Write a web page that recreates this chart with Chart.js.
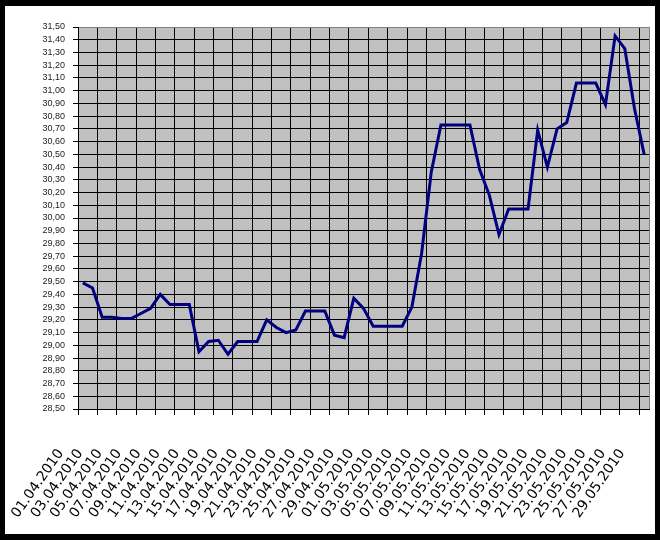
<!DOCTYPE html>
<html><head><meta charset="utf-8">
<script src="https://cdn.jsdelivr.net/npm/chart.js@4/dist/chart.umd.min.js"></script>
<style>html,body{margin:0;padding:0;background:#000;} canvas{display:block;}</style>
</head><body>
<canvas id="c" width="660" height="540"></canvas>
<script>
const dates = [
 '01.04.2010','02.04.2010','03.04.2010','04.04.2010','05.04.2010','06.04.2010','07.04.2010','08.04.2010','09.04.2010','10.04.2010',
 '11.04.2010','12.04.2010','13.04.2010','14.04.2010','15.04.2010','16.04.2010','17.04.2010','18.04.2010','19.04.2010','20.04.2010',
 '21.04.2010','22.04.2010','23.04.2010','24.04.2010','25.04.2010','26.04.2010','27.04.2010','28.04.2010','29.04.2010','30.04.2010',
 '01.05.2010','02.05.2010','03.05.2010','04.05.2010','05.05.2010','06.05.2010','07.05.2010','08.05.2010','09.05.2010','10.05.2010',
 '11.05.2010','12.05.2010','13.05.2010','14.05.2010','15.05.2010','16.05.2010','17.05.2010','18.05.2010','19.05.2010','20.05.2010',
 '21.05.2010','22.05.2010','23.05.2010','24.05.2010','25.05.2010','26.05.2010','27.05.2010','28.05.2010','29.05.2010'
];
const rates = [
 29.49,29.45,29.22,29.22,29.21,29.21,29.25,29.29,29.40,29.32,
 29.32,29.32,28.95,29.03,29.04,28.93,29.03,29.03,29.03,29.20,
 29.14,29.10,29.12,29.27,29.27,29.27,29.08,29.06,29.37,29.29,
 29.15,29.15,29.15,29.15,29.30,29.72,30.36,30.73,30.73,30.73,
 30.73,30.38,30.18,29.87,30.07,30.07,30.07,30.69,30.40,30.70,
 30.75,31.06,31.06,31.06,30.89,31.43,31.33,30.86,30.50
];
const shownDates = dates.filter((d, i) => i % 2 === 0);
const yMin = 28.5, yMax = 31.5, yStep = 0.1;

const framePlugin = {
  id: 'frame',
  beforeDraw(chart) {
    const ctx = chart.ctx, a = chart.chartArea;
    ctx.save();
    ctx.fillStyle = '#000';
    ctx.fillRect(0, 0, chart.width, chart.height);
    ctx.fillStyle = '#fff';
    ctx.fillRect(5, 6, 650, 528);
    ctx.fillStyle = '#c0c0c0';
    ctx.fillRect(a.left, a.top, a.right - a.left, a.bottom - a.top);
    ctx.restore();
  },
  afterDraw(chart) {
    const ctx = chart.ctx;
    ctx.save();
    ctx.fillStyle = '#000';
    ctx.fillRect(0, 0, 5, chart.height);
    ctx.fillRect(0, 534, chart.width, 6);
    ctx.restore();
  }
};

new Chart(document.getElementById('c'), {
  type: 'line',
  data: {
    labels: dates,
    datasets: [{
      data: rates,
      borderColor: '#000080',
      borderWidth: 3,
      pointRadius: 0,
      tension: 0,
      fill: false
    }]
  },
  options: {
    responsive: false,
    animation: false,
    devicePixelRatio: 1,
    layout: { padding: { top: 27, right: 11, left: 0, bottom: 0 } },
    plugins: { legend: { display: false }, tooltip: { enabled: false } },
    scales: {
      x: {
        type: 'category',
        offset: true,
        afterFit(s) { s.height = 131; s.paddingLeft = 0; s.paddingRight = 0; },
        grid: {
          offset: true,
          tickLength: 6,
          color: (c) => c.index === undefined ? '#808080' : (c.index % 2 === 0 ? '#000' : 'rgba(0,0,0,0)'),
          tickColor: (c) => (c.index !== undefined && c.index % 2 === 0) ? '#000' : 'rgba(0,0,0,0)',
          lineWidth: 1
        },
        border: { display: true, color: '#000', width: 1 },
        ticks: {
          autoSkip: false,
          maxRotation: 55,
          minRotation: 55,
          padding: 31,
          labelOffset: -22,
          color: '#000',
          font: { family: 'DejaVu Sans', size: 14 },
          callback: function (v, i) { return shownDates.includes(dates[i]) ? dates[i] : ''; }
        }
      },
      y: {
        min: yMin,
        max: yMax,
        afterFit(s) { s.width = 78; },
        grid: {
          tickLength: 5,
          color: (c) => (c.tick && c.tick.value > yMax - yStep / 2) ? '#808080' : '#000',
          tickColor: '#000',
          lineWidth: 1
        },
        border: { display: true, color: '#000', width: 1 },
        ticks: {
          stepSize: yStep,
          autoSkip: false,
          padding: 8,
          color: '#222',
          font: { family: "'Liberation Sans Narrow', 'Liberation Sans', sans-serif", size: 9 },
          callback: (v) => Number(v).toFixed(2).replace('.', ',')
        }
      }
    }
  },
  plugins: [framePlugin]
});
</script>
</body></html>
